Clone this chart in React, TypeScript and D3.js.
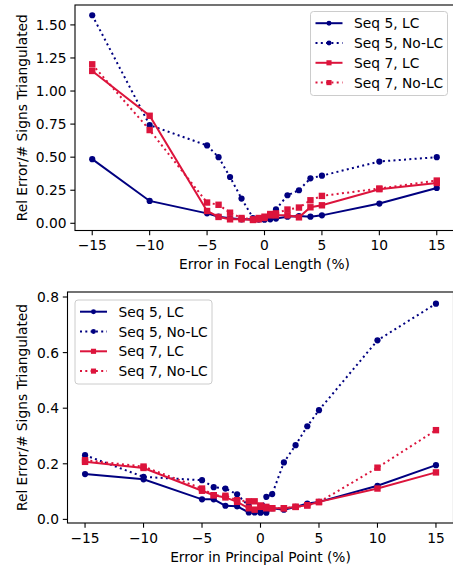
import * as d3 from "d3";

// x positions (% error) shared by every series
const errLevels = [-15, -10, -5, -4, -3, -2, -1, -0.5, 0, 0.5, 1, 2, 3, 4, 5, 10, 15];
const xTickValues = [-15, -10, -5, 0, 5, 10, 15];

// focal length panel
const focalSeq5LC = [0.485, 0.169, 0.075, 0.05, 0.038, 0.03, 0.03, 0.028, 0.027, 0.03, 0.036, 0.05, 0.055, 0.05, 0.06, 0.149, 0.267];
const focalSeq5NoLC = [1.573, 0.742, 0.589, 0.5, 0.35, 0.187, 0.04, 0.04, 0.045, 0.065, 0.105, 0.212, 0.25, 0.34, 0.36, 0.467, 0.5];
const focalSeq7LC = [1.152, 0.813, 0.093, 0.048, 0.03, 0.03, 0.025, 0.03, 0.04, 0.06, 0.06, 0.06, 0.045, 0.121, 0.136, 0.258, 0.305];
const focalSeq7NoLC = [1.202, 0.705, 0.157, 0.14, 0.08, 0.04, 0.03, 0.04, 0.05, 0.07, 0.075, 0.104, 0.119, 0.174, 0.207, 0.263, 0.323];
const focalYTicks = [0, 0.25, 0.5, 0.75, 1.0, 1.25, 1.5];

// principal point panel
const ppSeq5LC = [0.163, 0.144, 0.072, 0.072, 0.049, 0.047, 0.025, 0.025, 0.024, 0.024, 0.04, 0.035, 0.045, 0.057, 0.063, 0.121, 0.195];
const ppSeq5NoLC = [0.231, 0.153, 0.141, 0.116, 0.111, 0.09, 0.048, 0.033, 0.03, 0.081, 0.091, 0.205, 0.267, 0.335, 0.393, 0.644, 0.776];
const ppSeq7LC = [0.207, 0.185, 0.103, 0.087, 0.079, 0.063, 0.04, 0.035, 0.045, 0.04, 0.04, 0.04, 0.045, 0.051, 0.063, 0.111, 0.169];
const ppSeq7NoLC = [0.213, 0.19, 0.111, 0.087, 0.085, 0.069, 0.065, 0.065, 0.05, 0.045, 0.04, 0.04, 0.045, 0.05, 0.062, 0.186, 0.321];
const ppYTicks = [0, 0.2, 0.4, 0.6, 0.8];

const seriesNames = ["Seq 5, LC", "Seq 5, No-LC", "Seq 7, LC", "Seq 7, No-LC"];

const NAVY = "#000080";
const CRIMSON = "#dc143c";
const FONT = "DejaVu Sans, sans-serif";
const FS = 13.8;

type Style = { color: string; dotted: boolean; square: boolean };
const styles: Style[] = [
  { color: NAVY, dotted: false, square: false },
  { color: NAVY, dotted: true, square: false },
  { color: CRIMSON, dotted: false, square: true },
  { color: CRIMSON, dotted: true, square: true },
];

const Marker = ({ x, y, s, k = 1 }: { x: number; y: number; s: Style; k?: number }) =>
  s.square ? (
    <rect x={x - 3.2 * k} y={y - 3.2 * k} width={6.4 * k} height={6.4 * k} fill={s.color} />
  ) : (
    <circle cx={x} cy={y} r={3.1 * k} fill={s.color} />
  );

type PanelProps = {
  box: { left: number; right: number; top: number; bottom: number };
  yDomain: [number, number];
  yTicks: number[];
  yFmt: string;
  series: number[][];
  xLabel: string;
  legend: { x: number; y: number };
};

const Panel = ({ box, yDomain, yTicks, yFmt, series, xLabel, legend }: PanelProps) => {
  const x = d3.scaleLinear().domain([-16.5, 16.5]).range([box.left, box.right]);
  const y = d3.scaleLinear().domain(yDomain).range([box.bottom, box.top]);
  const fmt = d3.format(yFmt);
  const line = d3
    .line<number>()
    .x((_, i) => x(errLevels[i]))
    .y((d) => y(d));

  const lw = 2;
  const legW = 137;
  const legH = 84;
  const rowH = 19.8;

  return (
    <g>
      {/* lines + markers */}
      {series.map((vals, si) => {
        const s = styles[si];
        return (
          <g key={si}>
            <path
              d={line(vals) || ""}
              fill="none"
              stroke={s.color}
              strokeWidth={lw}
              strokeDasharray={s.dotted ? "2 3.3" : undefined}
            />
            {vals.map((v, i) => (
              <Marker key={i} x={x(errLevels[i])} y={y(v)} s={s} />
            ))}
          </g>
        );
      })}

      {/* spines */}
      <rect
        x={box.left}
        y={box.top}
        width={box.right - box.left}
        height={box.bottom - box.top}
        fill="none"
        stroke="black"
        strokeWidth={1.1}
      />

      {/* x ticks */}
      {xTickValues.map((t) => (
        <g key={t}>
          <line x1={x(t)} x2={x(t)} y1={box.bottom} y2={box.bottom + 4.7} stroke="black" strokeWidth={1.1} />
          <text x={x(t)} y={box.bottom + 19.5} textAnchor="middle" fontSize={FS} fontFamily={FONT}>
            {t < 0 ? "\u2212" + Math.abs(t) : t}
          </text>
        </g>
      ))}

      {/* y ticks */}
      {yTicks.map((t) => (
        <g key={t}>
          <line x1={box.left - 4.7} x2={box.left} y1={y(t)} y2={y(t)} stroke="black" strokeWidth={1.1} />
          <text x={box.left - 8.5} y={y(t) + 5} textAnchor="end" fontSize={FS} fontFamily={FONT}>
            {fmt(t)}
          </text>
        </g>
      ))}

      {/* axis labels */}
      <text
        x={(box.left + box.right) / 2}
        y={box.bottom + 38.5}
        textAnchor="middle"
        fontSize={FS}
        fontFamily={FONT}
      >
        {xLabel}
      </text>
      <text
        transform={`translate(27,${(box.top + box.bottom) / 2}) rotate(-90)`}
        textAnchor="middle"
        fontSize={FS}
        fontFamily={FONT}
      >
        Rel Error/# Signs Triangulated
      </text>

      {/* legend */}
      <g transform={`translate(${legend.x},${legend.y})`}>
        <rect width={legW} height={legH} rx={3} fill="white" fillOpacity={0.8} stroke="#cccccc" strokeWidth={1} />
        {seriesNames.map((name, i) => {
          const s = styles[i];
          const cy = 11.7 + i * rowH;
          return (
            <g key={name}>
              <line
                x1={5}
                x2={32}
                y1={cy}
                y2={cy}
                stroke={s.color}
                strokeWidth={lw}
                strokeDasharray={s.dotted ? "2 3.3" : undefined}
              />
              <Marker x={18.5} y={cy} s={s} k={0.8} />
              <text x={43.5} y={cy + 5} fontSize={FS} fontFamily={FONT}>
                {name}
              </text>
            </g>
          );
        })}
      </g>
    </g>
  );
};

export default function App() {
  return (
    <svg
      width={453}
      height={568}
      style={{ position: "absolute", left: 0, top: 0, background: "white" }}
    >
      <rect width={453} height={568} fill="white" />
      <Panel
        box={{ left: 75, right: 454, top: 5, bottom: 230.5 }}
        yDomain={[-0.0545, 1.6505]}
        yTicks={focalYTicks}
        yFmt=".2f"
        series={[focalSeq5LC, focalSeq5NoLC, focalSeq7LC, focalSeq7NoLC]}
        xLabel="Error in Focal Length (%)"
        legend={{ x: 310.5, y: 11.5 }}
      />
      <Panel
        box={{ left: 67.5, right: 453.5, top: 292, bottom: 523 }}
        yDomain={[-0.013, 0.818]}
        yTicks={ppYTicks}
        yFmt=".1f"
        series={[ppSeq5LC, ppSeq5NoLC, ppSeq7LC, ppSeq7NoLC]}
        xLabel="Error in Principal Point (%)"
        legend={{ x: 75, y: 300 }}
      />
    </svg>
  );
}
